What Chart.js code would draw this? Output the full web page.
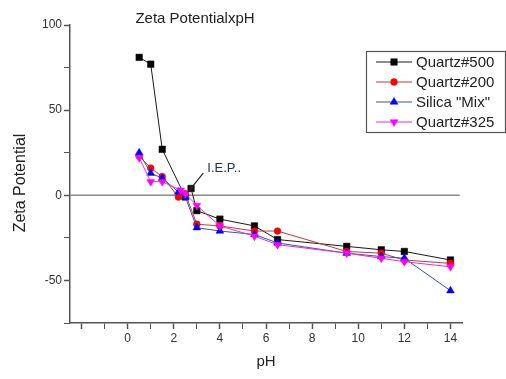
<!DOCTYPE html>
<html>
<head>
<meta charset="utf-8">
<script src="https://cdn.jsdelivr.net/npm/chart.js@4/dist/chart.umd.min.js"></script>
<style>
html,body{margin:0;padding:0;background:#fff;}
#wrap{width:506px;height:379px;position:relative;}
</style>
</head>
<body>
<div id="wrap"><canvas id="c" width="506" height="379"></canvas></div>
<script>
// ---- data ----
const seriesNames = ['Quartz#500', 'Quartz#200', 'Silica "Mix"', 'Quartz#325'];
const pH500 = [0.5, 1, 1.5, 2.5, 2.75, 3, 4, 5.5, 6.5, 9.5, 11, 12, 14];
const zeta500 = [81, 77, 27, -1, 4, -9, -14, -18, -26, -30, -32, -33, -38];
const pH200 = [0.5, 1, 1.5, 2.2, 2.5, 3, 4, 5.5, 6.5, 9.5, 11, 12, 14];
const zeta200 = [23, 16, 11, -1, 1, -17, -18, -21, -21, -33, -34, -38, -40];
const pHMix = [0.5, 1, 1.5, 2.2, 2.5, 3, 4, 5.5, 6.5, 9.5, 11, 12, 14];
const zetaMix = [25, 13, 10, 2, -1, -19, -21, -23, -28, -34, -36, -37, -56];
const pH325 = [0.5, 1, 1.5, 2.3, 2.5, 3, 4, 5.5, 6.5, 9.5, 11, 12, 14];
const zeta325 = [22, 8, 8, 3, 1, -6, -18, -24, -29, -34, -37, -39, -42];
const xTickValues = [-2, -1, 0, 1, 2, 3, 4, 5, 6, 7, 8, 9, 10, 11, 12, 13, 14];
const xLabelValues = [0, 2, 4, 6, 8, 10, 12, 14];
const yTickValues = [-75, -50, -25, 0, 25, 50, 75, 100];
const yLabelValues = [-50, 0, 50, 100];
const zeroLineX = [-2.5, 14.4];
const iepArrow = {from: [3.28, 13], to: [2.62, 2]};
const iepText = 'I.E.P..';
const chartTitle = 'Zeta PotentialxpH';
const xTitle = 'pH';
const yTitle = 'Zeta Potential';

const pts = (xs, ys) => xs.map((x, i) => ({x: x, y: ys[i]}));
const FONT = '"Liberation Sans", Arial, sans-serif';

const styles = [
  {line: '#1a1a1a', fill: '#000000', pointStyle: 'rect', radius: 4.6, rotation: 0},
  {line: '#c23a3a', fill: '#ff0000', pointStyle: 'circle', radius: 3.4, rotation: 0},
  {line: '#4050a8', fill: '#0000ff', pointStyle: 'triangle', radius: 4.5, rotation: 0},
  {line: '#e030e0', fill: '#ff00ff', pointStyle: 'triangle', radius: 4.5, rotation: 180}
];
const dataSets = [pts(pH500, zeta500), pts(pH200, zeta200), pts(pHMix, zetaMix), pts(pH325, zeta325)];

const datasets = dataSets.map((d, i) => ({
  label: seriesNames[i],
  data: d,
  borderColor: styles[i].line,
  borderWidth: 1,
  backgroundColor: styles[i].fill,
  pointBackgroundColor: styles[i].fill,
  pointBorderColor: styles[i].fill,
  pointBorderWidth: 0.5,
  pointStyle: styles[i].pointStyle,
  pointRadius: styles[i].radius,
  pointRotation: styles[i].rotation,
  tension: 0,
  order: 3 - i
}));
datasets.push({
  label: 'zero',
  data: pts(zeroLineX, [0, 0]),
  borderColor: '#8a8a8a',
  borderWidth: 1.5,
  pointRadius: 0,
  order: 10
});

const decor = {
  id: 'decor',
  afterDraw(chart) {
    const ctx = chart.ctx;
    const xs = chart.scales.x, ys = chart.scales.y;
    ctx.save();
    // title
    ctx.fillStyle = '#222';
    ctx.font = '15px ' + FONT;
    ctx.textAlign = 'center';
    ctx.textBaseline = 'middle';
    ctx.fillText(chartTitle, 195, 19);
    // x title
    ctx.fillText(xTitle, (xs.left + xs.right) / 2, 362);
    // y title
    ctx.save();
    ctx.translate(21, 183);
    ctx.rotate(-Math.PI / 2);
    ctx.font = '16px ' + FONT;
    ctx.fillText(yTitle, 0, 0);
    ctx.restore();
    // IEP arrow
    const x1 = xs.getPixelForValue(iepArrow.from[0]), y1 = ys.getPixelForValue(iepArrow.from[1]);
    const x2 = xs.getPixelForValue(iepArrow.to[0]), y2 = ys.getPixelForValue(iepArrow.to[1]);
    ctx.strokeStyle = '#222';
    ctx.fillStyle = '#222';
    ctx.lineWidth = 1.2;
    ctx.beginPath(); ctx.moveTo(x1, y1); ctx.lineTo(x2, y2); ctx.stroke();
    const ang = Math.atan2(y2 - y1, x2 - x1);
    ctx.beginPath();
    ctx.moveTo(x2, y2);
    ctx.lineTo(x2 - 7 * Math.cos(ang - 0.4), y2 - 7 * Math.sin(ang - 0.4));
    ctx.lineTo(x2 - 7 * Math.cos(ang + 0.4), y2 - 7 * Math.sin(ang + 0.4));
    ctx.closePath(); ctx.fill();
    ctx.font = '13px ' + FONT;
    ctx.textAlign = 'left';
    ctx.fillStyle = '#23305a';
    ctx.fillText(iepText, x1 + 4, y1 - 5);
    // legend
    const lx = 366, ly = 51, lw = 139, lh = 81;
    ctx.fillStyle = '#fff';
    ctx.fillRect(lx, ly, lw, lh);
    ctx.strokeStyle = '#555';
    ctx.lineWidth = 1.2;
    ctx.strokeRect(lx + 0.5, ly + 0.5, lw, lh);
    ctx.font = '15px ' + FONT;
    ctx.textBaseline = 'middle';
    seriesNames.forEach((name, i) => {
      const y = 62 + i * 20;
      ctx.strokeStyle = styles[i].line;
      ctx.lineWidth = 1;
      ctx.beginPath(); ctx.moveTo(376, y); ctx.lineTo(412, y); ctx.stroke();
      ctx.fillStyle = styles[i].fill;
      ctx.strokeStyle = styles[i].fill;
      ctx.lineWidth = 0.5;
      Chart.helpers.drawPoint(ctx, {
        pointStyle: styles[i].pointStyle,
        radius: styles[i].radius,
        rotation: styles[i].rotation,
        borderWidth: 0.5
      }, 394, y);
      ctx.fillStyle = '#222';
      ctx.fillText(name, 416, y + 1);
    });
    ctx.restore();
  }
};

new Chart(document.getElementById('c'), {
  type: 'line',
  data: {datasets: datasets},
  options: {
    responsive: false,
    animation: false,
    layout: {padding: {top: 25, right: 44, left: 0, bottom: 0}},
    plugins: {legend: {display: false}, tooltip: {enabled: false}, title: {display: false}},
    scales: {
      x: {
        type: 'linear',
        min: -2.5, max: 14.5,
        afterBuildTicks: s => { s.ticks = xTickValues.map(v => ({value: v})); },
        afterFit: s => { s.height = 56; },
        grid: {drawOnChartArea: false, drawTicks: true, tickLength: 6, tickColor: '#555',
               tickWidth: c => (c.tick && (xLabelValues.indexOf(c.tick.value) >= 0 || c.tick.value === -2)) ? 1.5 : 1},
        border: {display: true, color: '#555', width: 1.5},
        ticks: {
          autoSkip: false, maxRotation: 0, padding: 2, color: '#333',
          font: {family: FONT, size: 12},
          callback: v => xLabelValues.indexOf(v) >= 0 ? String(v) : ''
        }
      },
      y: {
        type: 'linear',
        min: -75, max: 100,
        afterBuildTicks: s => { s.ticks = yTickValues.map(v => ({value: v})); },
        afterFit: s => { s.width = 70; },
        grid: {drawOnChartArea: false, drawTicks: true, tickLength: 6, tickColor: '#555',
               tickWidth: c => (c.tick && yLabelValues.indexOf(c.tick.value) >= 0) ? 1.5 : 1},
        border: {display: true, color: '#555', width: 1.5},
        ticks: {
          autoSkip: false, padding: 2, color: '#333',
          font: {family: FONT, size: 12},
          callback: v => yLabelValues.indexOf(v) >= 0 ? String(v) : ''
        }
      }
    }
  },
  plugins: [decor]
});
</script>
</body>
</html>
